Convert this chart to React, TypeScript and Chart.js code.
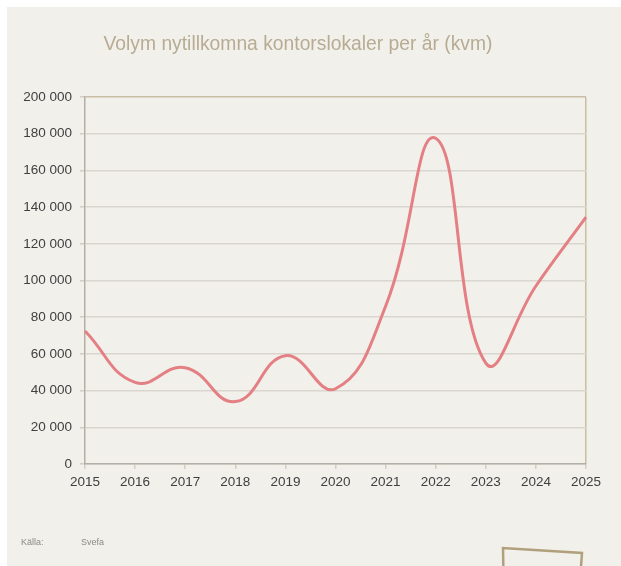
import React, { useEffect, useRef } from "react";
import { Chart, registerables } from "chart.js";

Chart.register(...registerables);

const years = ["2015", "2016", "2017", "2018", "2019", "2020", "2021", "2022", "2023", "2024", "2025"];
const volume = [72500, 44500, 52500, 34000, 59000, 41000, 86000, 177500, 55000, 97000, 134500];
const titleText = "Volym nytillkomna kontorslokaler per år (kvm)";
const sourceLabel = "Källa:";
const sourceName = "Svefa";

const BG = "#f2f0eb";
const TAN = "#c9bea3";
const GRID = "#d9d6cf";
const AXIS = "#b3afa6";

const fmt = (v: number) => String(v).replace(/\B(?=(\d{3})+(?!\d))/g, " ");

const decor = {
  id: "decor",
  afterDraw(chart: any) {
    const ctx = chart.ctx;
    ctx.save();
    ctx.fillStyle = "#b7ac93";
    ctx.font = "19.3px 'Liberation Sans', Arial, sans-serif";
    ctx.textAlign = "center";
    ctx.textBaseline = "middle";
    ctx.fillText(titleText, 291, 38);

    ctx.fillStyle = "#8c8a86";
    ctx.font = "9px 'Liberation Sans', Arial, sans-serif";
    ctx.textAlign = "left";
    ctx.fillText(sourceLabel, 14, 536);
    ctx.fillText(sourceName, 74, 536);

    ctx.strokeStyle = "#b0a07c";
    ctx.lineWidth = 2.5;
    ctx.beginPath();
    ctx.moveTo(497, 600);
    ctx.lineTo(496, 541);
    ctx.lineTo(575, 546);
    ctx.lineTo(571, 600);
    ctx.stroke();
    ctx.restore();
  },
};

export default function App() {
  const ref = useRef<HTMLCanvasElement>(null);
  useEffect(() => {
    if (!ref.current) return;
    const chart = new Chart(ref.current, {
      type: "line",
      data: {
        labels: years,
        datasets: [
          {
            data: volume,
            borderColor: "#e47f83",
            borderWidth: 3,
            pointRadius: 0,
            tension: 0.45,
            fill: false,
          },
        ],
      },
      options: {
        responsive: false,
        animation: false,
        layout: { padding: { top: 90, right: 35, bottom: 72, left: 0 } },
        plugins: {
          legend: { display: false },
          title: { display: false },
          tooltip: { enabled: false },
        },
        scales: {
          x: {
            offset: false,
            afterFit: (s: any) => {
              s.height = 30;
            },
            grid: {
              color: (c: any) => (c.index === 10 ? TAN : "rgba(0,0,0,0)"),
              lineWidth: 1.5,
              tickLength: 5,
              tickColor: "#d2cec6",
            },
            border: { color: AXIS, width: 1.5 },
            ticks: {
              color: "#404040",
              font: { family: "'Liberation Sans', Arial, sans-serif", size: 13.5 },
              padding: 5,
              maxRotation: 0,
            },
          },
          y: {
            min: 0,
            max: 200000,
            afterFit: (s: any) => {
              s.width = 78;
            },
            grid: {
              color: (c: any) => (c.index === 10 ? TAN : GRID),
              lineWidth: 1.5,
              tickLength: 5,
              tickColor: "#d2cec6",
            },
            border: { color: AXIS, width: 1.5 },
            ticks: {
              stepSize: 20000,
              color: "#404040",
              font: { family: "'Liberation Sans', Arial, sans-serif", size: 13.5 },
              padding: 8,
              callback: (v: any) => fmt(Number(v)),
            },
          },
        },
      },
      plugins: [decor],
    });
    return () => chart.destroy();
  }, []);

  return (
    <div
      style={{
        position: "absolute",
        left: 7,
        top: 7,
        width: 614,
        height: 559,
        background: BG,
        overflow: "hidden",
      }}
    >
      <canvas ref={ref} width={614} height={559} style={{ display: "block" }} />
    </div>
  );
}
